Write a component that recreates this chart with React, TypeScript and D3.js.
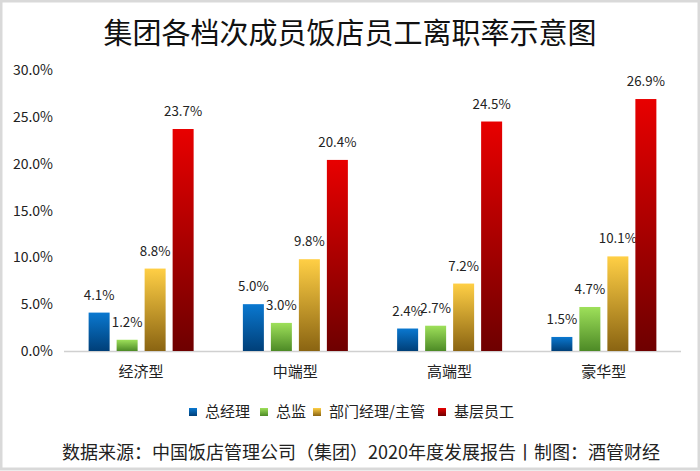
import React from "react";
import * as d3 from "d3";

const categories = ["经济型", "中端型", "高端型", "豪华型"];
const seriesNames = ["总经理", "总监", "部门经理/主管", "基层员工"];
const generalManager = [4.1, 5.0, 2.4, 1.5];
const director = [1.2, 3.0, 2.7, 4.7];
const deptManager = [8.8, 9.8, 7.2, 10.1];
const staff = [23.7, 20.4, 24.5, 26.9];
const yTicks = [0, 5, 10, 15, 20, 25, 30];

const title = "集团各档次成员饭店员工离职率示意图";
const footer = "数据来源：中国饭店管理公司（集团）2020年度发展报告丨制图：酒管财经";

// top / bottom colours of each series gradient
const gradients = [
  ["#0a78d0", "#003f78"],
  ["#9ee05a", "#4d8a26"],
  ["#ffcf45", "#8a6412"],
  ["#e80000", "#6e0000"],
];

const W = 700;
const H = 471;
const font = "'Noto Sans CJK SC', 'Noto Sans', sans-serif";

const App = () => {
  const values = [generalManager, director, deptManager, staff];

  const x = d3.scaleBand<string>().domain(categories).range([64, 681]);
  const y = d3.scaleLinear().domain([0, 30]).range([351, 70]);
  const groupW = 105;
  const inner = d3
    .scaleBand<number>()
    .domain(d3.range(seriesNames.length))
    .range([0, groupW])
    .paddingInner(0.25);

  const legendX = [189, 260, 313, 438];

  return (
    <svg width={W} height={H} style={{ display: "block", position: "absolute", left: 0, top: 0 }}>
      <defs>
        {gradients.map((g, i) => (
          <linearGradient key={i} id={`g${i}`} x1="0" y1="0" x2="0" y2="1">
            <stop offset="0%" stopColor={g[0]} />
            <stop offset="100%" stopColor={g[1]} />
          </linearGradient>
        ))}
      </defs>
      <rect x={0} y={0} width={W} height={H} fill="#ffffff" />
      <rect x={1} y={1} width={W - 2} height={H - 3} fill="none" stroke="#d9d9d9" strokeWidth={3} />

      <text x={350} y={44} textAnchor="middle" fontSize={29} fontFamily={font} fill="#111">
        {title}
      </text>

      {yTicks.map((t) => (
        <text key={t} x={53} y={y(t) + 5} textAnchor="end" fontSize={14} fontFamily={font} fill="#222">
          {t.toFixed(1) + "%"}
        </text>
      ))}

      <line x1={64} x2={681} y1={y(0) + 0.5} y2={y(0) + 0.5} stroke="#d0d0d0" strokeWidth={1.5} />

      {categories.map((c, ci) => {
        const gx = (x(c) ?? 0) + (x.bandwidth() - groupW) / 2;
        return (
          <g key={c}>
            {values.map((vals, si) => {
              const bx = gx + (inner(si) ?? 0);
              const bw = inner.bandwidth();
              const v = vals[ci];
              return (
                <g key={si}>
                  <rect x={bx} y={y(v)} width={bw} height={y(0) - y(v)} fill={`url(#g${si})`} />
                  <text
                    x={bx + bw / 2}
                    y={y(v) - 13}
                    textAnchor="middle"
                    fontSize={13.3}
                    fontFamily={font}
                    fill="#222"
                  >
                    {v.toFixed(1) + "%"}
                  </text>
                </g>
              );
            })}
            <text
              x={(x(c) ?? 0) + x.bandwidth() / 2}
              y={377}
              textAnchor="middle"
              fontSize={15}
              fontFamily={font}
              fill="#222"
            >
              {c}
            </text>
          </g>
        );
      })}

      {seriesNames.map((s, i) => (
        <g key={s}>
          <rect x={legendX[i]} y={408} width={8} height={8} fill={`url(#g${i})`} />
          <text x={legendX[i] + 16} y={417} fontSize={15} fontFamily={font} fill="#222">
            {s}
          </text>
        </g>
      ))}

      <text x={62} y={459} fontSize={18} fontFamily={font} fill="#222">
        {footer}
      </text>
    </svg>
  );
};

export default App;
